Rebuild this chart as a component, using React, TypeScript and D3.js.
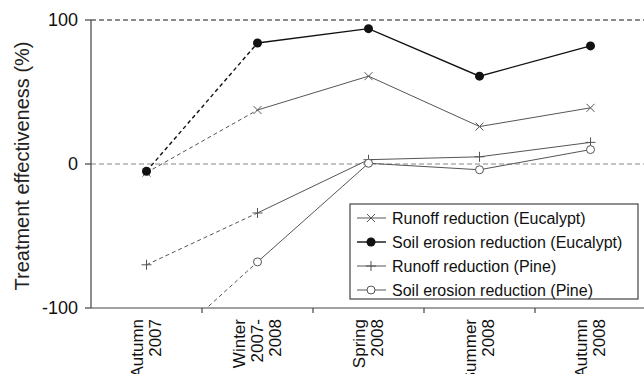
import React from "react";
import * as d3 from "d3";

// categories (x) as multi-line labels
const seasons = ["Autumn 2007", "Winter 2007-2008", "Spring 2008", "Summer 2008", "Autumn 2008"];
const seasonLines = [["Autumn", "2007"], ["Winter", "2007-", "2008"], ["Spring", "2008"], ["Summer", "2008"], ["Autumn", "2008"]];

// values (%)
const runoffEucalypt = [-6, 37.5, 61, 26, 39];
const soilEucalypt = [-5, 84, 94, 61, 82];
const runoffPine = [-70, -34, 3, 5, 15];
const soilPine = [-138, -68, 0.5, -4, 10];

const yTicks = [100, 0, -100];

type Marker = "x" | "dot" | "plus" | "circle";
const series: { name: string; values: number[]; marker: Marker; color: string; width: number }[] = [
  { name: "Runoff reduction (Eucalypt)", values: runoffEucalypt, marker: "x", color: "#555", width: 1 },
  { name: "Soil erosion reduction (Eucalypt)", values: soilEucalypt, marker: "dot", color: "#111", width: 1.4 },
  { name: "Runoff reduction (Pine)", values: runoffPine, marker: "plus", color: "#555", width: 1 },
  { name: "Soil erosion reduction (Pine)", values: soilPine, marker: "circle", color: "#555", width: 1 },
];

const W = 644;
const H = 374;
const left = 91;
const top = 20;
const bottom = 308;
const right = 644;
const font = "'Liberation Sans', Arial, sans-serif";

function MarkerShape({ type, x, y, color }: { type: Marker; x: number; y: number; color: string }) {
  if (type === "dot") return <circle cx={x} cy={y} r={4.5} fill="#111" />;
  if (type === "circle") return <circle cx={x} cy={y} r={4} fill="#fff" stroke={color} strokeWidth={1} />;
  if (type === "plus")
    return (
      <g stroke={color} strokeWidth={1}>
        <line x1={x - 5} x2={x + 5} y1={y} y2={y} />
        <line x1={x} x2={x} y1={y - 5} y2={y + 5} />
      </g>
    );
  return (
    <g stroke={color} strokeWidth={1}>
      <line x1={x - 4} x2={x + 4} y1={y - 4} y2={y + 4} />
      <line x1={x - 4} x2={x + 4} y1={y + 4} y2={y - 4} />
    </g>
  );
}

export default function App() {
  const x = d3.scaleBand<string>().domain(seasons).range([left, left + 111 * seasons.length]).padding(0);
  const y = d3.scaleLinear().domain([-100, 100]).range([bottom, top]);
  const cx = (s: string) => (x(s) as number) + x.bandwidth() / 2;
  // points as [index, value] so the same generator serves both segments
  const line = d3
    .line<[number, number]>()
    .x((d) => cx(seasons[d[0]]))
    .y((d) => y(d[1]));

  const tickBounds = seasons.slice(1).map((s) => x(s) as number);

  return (
    <svg width={W} height={H} style={{ position: "absolute", left: 0, top: 0, fontFamily: font }}>
      <defs>
        <clipPath id="plot">
          <rect x={left} y={top} width={right - left} height={bottom - top} />
        </clipPath>
      </defs>
      <rect width={W} height={H} fill="#fff" />

      {/* reference lines */}
      <line x1={left} x2={right} y1={y(100)} y2={y(100)} stroke="#666" strokeWidth={1.6} strokeDasharray="5,3" />
      <line x1={left} x2={right} y1={y(0)} y2={y(0)} stroke="#888" strokeWidth={1} strokeDasharray="5,3" />

      {/* axes */}
      <line x1={left} x2={left} y1={top} y2={bottom} stroke="#444" strokeWidth={1.2} />
      <line x1={left} x2={right} y1={bottom} y2={bottom} stroke="#444" strokeWidth={1.2} />
      {yTicks.map((t) => (
        <g key={t}>
          <line x1={left - 6} x2={left} y1={y(t)} y2={y(t)} stroke="#444" strokeWidth={1.2} />
          <text x={78} y={y(t)} textAnchor="end" dominantBaseline="central" fontSize={18} fill="#111">
            {t}
          </text>
        </g>
      ))}
      {tickBounds.map((b, i) => (
        <line key={i} x1={b} x2={b} y1={bottom} y2={bottom + 5} stroke="#444" strokeWidth={1.2} />
      ))}
      {seasonLines.map((lines, i) => {
        const c = cx(seasons[i]);
        return lines.map((ln, j) => {
          const lx = c + (j - (lines.length - 1) / 2) * 18;
          return (
            <text
              key={i + "-" + j}
              transform={`translate(${lx},319) rotate(-90)`}
              textAnchor="end"
              dominantBaseline="central"
              fontSize={17}
              fill="#111"
            >
              {ln}
            </text>
          );
        });
      })}
      <text
        transform={`translate(22,${(top + bottom) / 2 + 2}) rotate(-90)`}
        textAnchor="middle"
        dominantBaseline="central"
        fontSize={20}
        fill="#222"
      >
        Treatment effectiveness (%)
      </text>

      {/* series */}
      <g clipPath="url(#plot)">
        {series.map((s) => {
          const pts = s.values.map((v, i) => [i, v] as [number, number]);
          return (
            <g key={s.name} fill="none" stroke={s.color} strokeWidth={s.width}>
              <path d={line(pts.slice(0, 2)) || ""} strokeDasharray="4,3" />
              <path d={line(pts.slice(1)) || ""} />
            </g>
          );
        })}
        {series.map((s) =>
          s.values.map((v, i) => (
            <MarkerShape key={s.name + i} type={s.marker} x={cx(seasons[i])} y={y(v)} color={s.color} />
          ))
        )}
      </g>

      {/* legend */}
      <g>
        <rect x={350} y={204} width={288} height={95} fill="#fff" stroke="#444" strokeWidth={1.2} />
        {series.map((s, i) => {
          const ly = 218 + i * 24;
          return (
            <g key={s.name}>
              <line x1={357} x2={386} y1={ly} y2={ly} stroke={s.color} strokeWidth={s.width} />
              <MarkerShape type={s.marker} x={371} y={ly} color={s.color} />
              <text x={392} y={ly} dominantBaseline="central" fontSize={16} fill="#111">
                {s.name}
              </text>
            </g>
          );
        })}
      </g>
    </svg>
  );
}
